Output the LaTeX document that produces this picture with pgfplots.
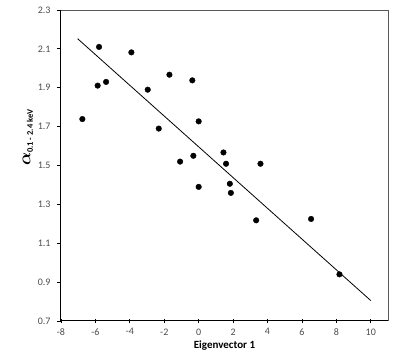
\documentclass[border=0pt]{standalone}
\usepackage{amsmath,bm}
\usepackage{fontspec}
\setmainfont{Carlito}
\usepackage{pgfplots}
\pgfplotsset{compat=1.18}
\begin{document}
\begin{tikzpicture}
\begin{axis}[
  scale only axis,
  width=327pt, height=311pt,
  xmin=-8, xmax=11, ymin=0.7, ymax=2.3,
  xtick={-8,-6,...,10}, ytick={0.7,0.9,...,2.3},
  yticklabel style={xshift=-3pt, /pgf/number format/fixed, /pgf/number format/fixed zerofill, /pgf/number format/precision=1},
  /pgf/number format/assume math mode=true,
  tick label style={font=\fontsize{10}{11}\selectfont, text=black!70},
  axis line style={draw=none},
  tick style={black, line width=0.8pt},
  xtick pos=bottom, ytick pos=left,
  major tick length=4pt,
  xtick align=center, ytick align=outside,
  xticklabel style={yshift=-2pt},
  xlabel={\textbf{Eigenvector 1}},
  xlabel style={font=\fontsize{11}{12}\selectfont, yshift=2pt},
  ylabel={$\bm{\alpha}_{\text{\textbf{\fontsize{8.5}{9}\selectfont 0.1 - 2.4 keV}}}$},
  ylabel style={font=\fontsize{17}{18}\selectfont, yshift=-2pt, at={(ticklabel cs:0.59)}},
  clip=false,
]
\draw[gray!70!black, line width=0.6pt] (rel axis cs:0,1) -- (rel axis cs:1,1) -- (rel axis cs:1,0);
\draw[black, line width=1pt] (rel axis cs:0,1) -- (rel axis cs:0,0) -- (rel axis cs:1,0);
\addplot[only marks, mark=*, mark size=2.8pt, black] coordinates {
(-6.76,1.739) (-5.79,2.110) (-5.87,1.911) (-5.38,1.930) (-3.91,2.082)
(-2.96,1.890) (-2.32,1.690) (-1.70,1.967) (-1.08,1.520) (-0.37,1.938)
(-0.31,1.550) (0.00,1.727) (1.44,1.567) (1.59,1.509) (3.59,1.509)
(0.00,1.390) (1.81,1.406) (1.87,1.359) (3.34,1.218) (6.53,1.225)
(8.18,0.940)
};
\addplot[black, line width=0.8pt] coordinates {(-7.03,2.152) (10,0.805)};
\end{axis}
\pgfresetboundingbox
\path ([shift={(-61pt,-42pt)}]current axis.south west) rectangle ([shift={(11pt,10pt)}]current axis.north east);
\end{tikzpicture}
\end{document}
